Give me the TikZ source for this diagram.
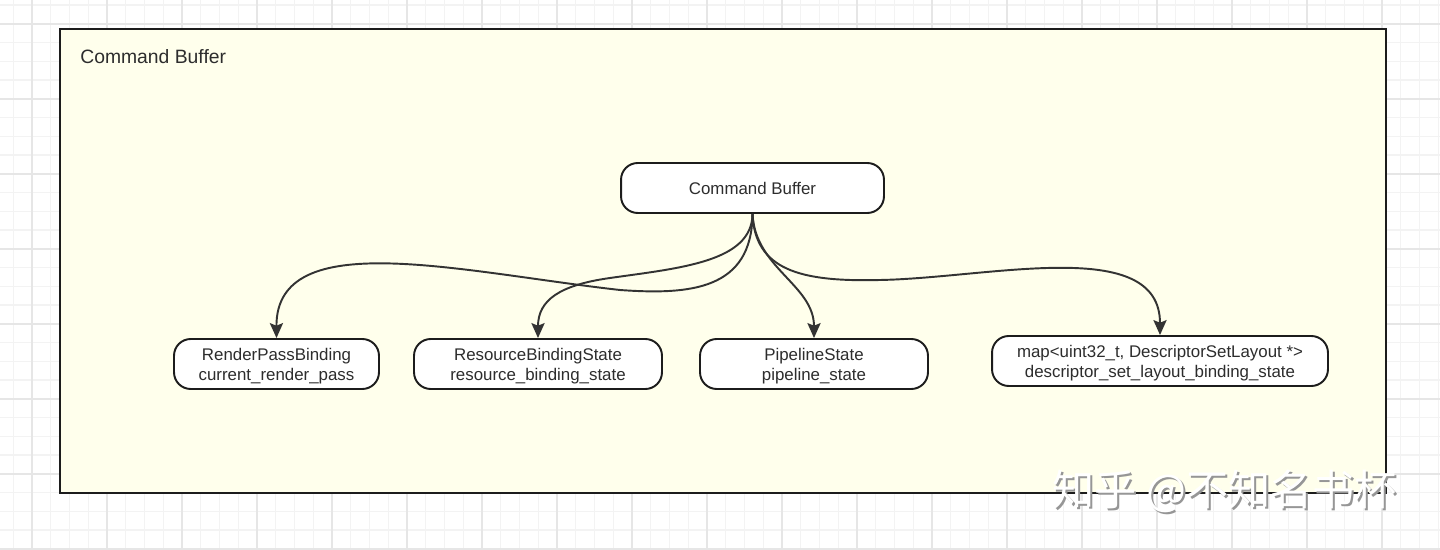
\documentclass[tikz,border=0pt]{standalone}
\usepackage{fontspec}
\setmainfont{Liberation Sans}
\newfontfamily\cjkfont{Noto Sans CJK SC}
\usepackage{tikz}
\usetikzlibrary{arrows.meta}

\definecolor{framefill}{RGB}{255,255,236}
\definecolor{gridminor}{RGB}{243,243,243}
\definecolor{gridmajor}{RGB}{230,230,230}
\definecolor{edgegray}{RGB}{51,51,51}
\definecolor{boxline}{RGB}{28,28,28}
\definecolor{textgray}{RGB}{45,45,45}
\definecolor{markgray}{RGB}{150,150,150}

\tikzset{
	member/.style={draw=boxline, line width=1.1pt, fill=white, rounded corners=9.5pt,
		align=center, text=textgray, inner sep=0pt, minimum height=1cm,
		font=\fontsize{9.6}{11.3}\selectfont},
	link/.style={draw=edgegray, line width=1.1pt,
		-{Stealth[length=8.5pt,width=7.5pt,inset=1.5pt]}},
	gridline/.style={draw=gridminor, line width=0.6pt},
	gridbold/.style={draw=gridmajor, line width=0.8pt}
}

\begin{document}
\begin{tikzpicture}[x=0.02cm, y=-0.02cm]
\useasboundingbox (0,0) rectangle (1440,550);
% background grid
\foreach \gx in {13.25,32,...,1440} \draw[gridline] (\gx,0) -- (\gx,550);
\foreach \gy in {5,23.75,...,550} \draw[gridline] (0,\gy) -- (1440,\gy);
\foreach \gx in {32,107,...,1440} \draw[gridbold] (\gx,0) -- (\gx,550);
\foreach \gy in {24,99,...,550} \draw[gridbold] (0,\gy) -- (1440,\gy);

% container
\draw[draw=boxline, line width=1.1pt, fill=framefill] (60,29) rectangle (1386,493);
\node[anchor=west, text=textgray, inner sep=0pt, font=\fontsize{11}{13}\selectfont] (title) at (80,57) {Command Buffer};

% members
\node[member, minimum width=5.26cm] (cmdbuf) at (752.5,188) {Command Buffer};
\node[member, minimum width=4.1cm] (rpbind) at (276.5,364) {\rule{0pt}{9pt}RenderPassBinding\\current\_render\_pass};
\node[member, minimum width=4.96cm] (resbind) at (538,364) {\rule{0pt}{9pt}ResourceBindingState\\resource\_binding\_state};
\node[member, minimum width=4.56cm] (pipe) at (814,364) {\rule{0pt}{9pt}PipelineState\\pipeline\_state};
\node[member, minimum width=6.72cm] (dslmap) at (1160,361) {\rule{0pt}{9pt}map<uint32\_t, DescriptorSetLayout *>\\descriptor\_set\_layout\_binding\_state};

% links
\draw[link] (cmdbuf.south) .. controls (752,290) and (690,295) .. (620,290)
	.. controls (460,272) and (276,225) .. (rpbind.north);
\draw[link] (cmdbuf.south) .. controls (752,262) and (680,268) .. (610,278)
	.. controls (560,285) and (538,300) .. (resbind.north);
\draw[link] (cmdbuf.south) .. controls (755,268) and (814,285) .. (pipe.north);
\draw[link] (cmdbuf.south) .. controls (755,270) and (800,282) .. (880,280)
	.. controls (990,278) and (1160,235) .. (dslmap.north);

% watermark
\node[anchor=west, text=markgray, inner sep=0pt, font=\cjkfont\fontsize{24}{24}\selectfont] (markshade) at (1054,493) {知乎 @不知名书杯};
\node[anchor=west, text=white, inner sep=0pt, font=\cjkfont\fontsize{24}{24}\selectfont] (mark) at (1052,491) {知乎 @不知名书杯};
\end{tikzpicture}
\end{document}
